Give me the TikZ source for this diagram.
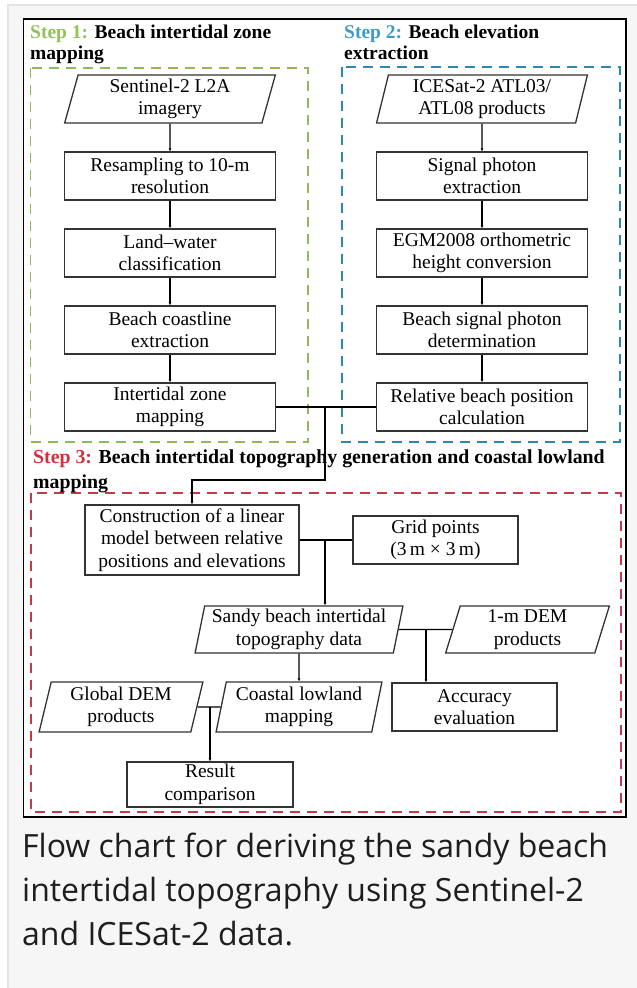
\documentclass[tikz,border=0pt]{standalone}
\usepackage{fontspec}
\setmainfont{Liberation Serif}
\newfontfamily\capfont{Open Sans}
\usetikzlibrary{positioning,shapes.geometric,arrows.meta}
\definecolor{stepgreen}{HTML}{93C25C}
\definecolor{stepblue}{HTML}{3E9CC8}
\definecolor{stepred}{HTML}{D2303E}
\definecolor{framegreen}{HTML}{8FB95A}
\definecolor{frameblue}{HTML}{2F88AE}
\definecolor{framered}{HTML}{C23A4C}
\definecolor{boxgray}{HTML}{333333}
\definecolor{panelgray}{HTML}{F6F6F6}
\definecolor{panelline}{HTML}{E3E3E3}
\definecolor{captext}{HTML}{1E1E1E}
\newcommand\boxfont{\fontsize{19.5}{22.5}\selectfont}
\tikzstyle{block} = [rectangle,draw=boxgray,line width=1.3pt,align=center,minimum width=211pt,minimum height=48pt,inner sep=1pt]
\tikzstyle{io} = [trapezium,trapezium left angle=78,trapezium right angle=102,trapezium stretches=true,draw=boxgray,line width=1.3pt,align=center,minimum width=211pt,minimum height=48pt,inner sep=1pt]
\tikzstyle{line} = [draw, line width=1.4pt, -{Latex[length=3pt,width=3pt]}]
\tikzstyle{link} = [draw, line width=1.4pt]
\tikzstyle{stepframe} = [dash pattern=on 10pt off 7pt, line width=1.8pt]
\tikzstyle{steptitle} = [anchor=base west,align=left,inner sep=0pt,font=\fontsize{19.5}{21.5}\selectfont\bfseries]

\begin{document}
\begin{tikzpicture}[x=1pt,y=1pt,font=\boxfont,node distance=77pt]
            \useasboundingbox (0,0) rectangle (637,-988);
            \fill[white] (0,0) rectangle (637,-988);
            \path[fill=panelgray,draw=panelline,line width=1.5pt] (8,-5) rectangle (645,-995);
            \path[draw=black,fill=white,line width=1.8pt] (23.5,-19) rectangle (626,-817);
            \path[draw=framegreen,stepframe] (30.5,-68) rectangle (308,-442);
            \path[draw=frameblue,stepframe] (342,-67) rectangle (620,-442);
            \path[draw=framered,stepframe] (31,-493) rectangle (621,-812);
            \node[steptitle] (step1) at (30,-59.5) {\textcolor{stepgreen}{Step 1:} Beach intertidal zone\\mapping};
            \node[steptitle] (step2) at (344,-59.5) {\textcolor{stepblue}{Step 2:} Beach elevation\\extraction};
            \node[steptitle,font=\fontsize{19.8}{25}\selectfont\bfseries] (step3) at (33,-488) {\textcolor{stepred}{Step 3:} Beach intertidal topography generation and coastal lowland\\mapping};

            \path[line] node[io] (s2img) at (170,-99) {Sentinel-2 L2A\\imagery};
            \path[line] node[block,below of=s2img] (resamp) {Resampling to 10-m\\resolution}
            (s2img) edge (resamp);
            \path[line] node[block,below of=resamp] (landwater) {Land--water\\classification}
            (resamp) edge (landwater);
            \path[line] node[block,below of=landwater] (coastline) {Beach coastline\\extraction}
            (landwater) edge (coastline);
            \path[line] node[block,below of=coastline] (izm) {Intertidal zone\\mapping}
            (coastline) edge (izm);

            \path[line] node[io] (icesat) at (482,-99) {ICESat-2 ATL03/\\ATL08 products};
            \path[line] node[block,below of=icesat] (photon) {Signal photon\\extraction}
            (icesat) edge (photon);
            \path[line] node[block,below of=photon] (egm) {EGM2008 orthometric\\height conversion}
            (photon) edge (egm);
            \path[line] node[block,below of=egm] (beachphoton) {Beach signal photon\\determination}
            (egm) edge (beachphoton);
            \path[line] node[block,below of=beachphoton] (relpos) {Relative beach position\\calculation}
            (beachphoton) edge (relpos);

            \node[block,minimum width=214pt,minimum height=70pt] (linmodel) at (192,-540) {Construction of a linear\\model between relative\\positions and elevations};
            \node[block,minimum width=165pt] (grid) at (435.5,-540) {Grid points\\(3\,m × 3\,m)};
            \node[io,minimum width=208pt,minimum height=47pt] (sandy) at (299,-629.5) {Sandy beach intertidal\\topography data};
            \node[io,minimum width=165pt,minimum height=47pt] (dem1m) at (527.5,-629.5) {1-m DEM\\products};
            \node[io,minimum width=164pt,minimum height=50pt] (globdem) at (121,-707) {Global DEM\\products};
            \node[io,minimum width=166pt,minimum height=50pt] (lowland) at (299,-707) {Coastal lowland\\mapping};
            \node[block,minimum width=165pt] (accuracy) at (474.5,-707) {Accuracy\\evaluation};
            \node[block,minimum width=166pt,minimum height=45pt] (result) at (210,-784.5) {Result\\comparison};

            \coordinate (jA) at (325,-407);
            \coordinate (jB) at (325,-480);
            \coordinate (jC) at (325,-540);
            \coordinate (jD) at (426,-629.5);
            \coordinate (jE) at (210,-707);
            \path[link] (izm) -- (relpos);
            \path[line] (jA) -- (jB) -| (linmodel.north);
            \path[link] (linmodel) -- (grid);
            \path[line] (jC) -- (jC |- sandy.north);
            \path[link] (sandy) -- (dem1m);
            \path[line] (jD) -- (jD |- accuracy.north);
            \path[line] (sandy) -- (lowland);
            \path[link] (globdem) -- (lowland);
            \path[line] (jE) -- (result);

            \node[anchor=base west,align=left,inner sep=0pt,text=captext,font=\capfont\fontsize{32}{44}\selectfont] (caption) at (22,-945) {Flow chart for deriving the sandy beach\\intertidal topography using Sentinel-2\\and ICESat-2 data.};
        \end{tikzpicture}
\end{document}
